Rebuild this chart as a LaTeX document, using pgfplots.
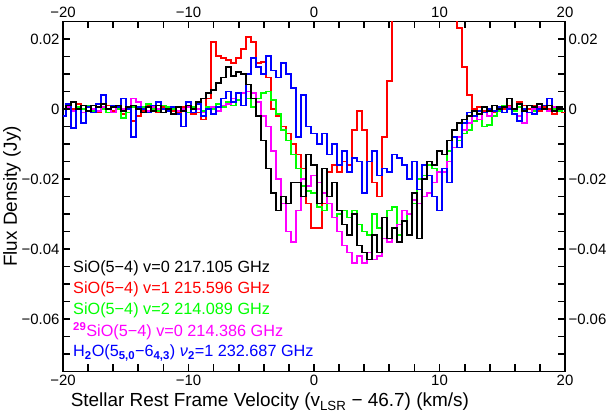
\documentclass[border=0pt]{standalone}
\usepackage{fontspec}
\setmainfont{Liberation Sans}
\usepackage{pgfplots}
\usepackage{pgfplotstable}
\pgfplotsset{compat=1.18}
\definecolor{cK}{rgb}{0,0,0}
\definecolor{cR}{rgb}{1,0,0}
\definecolor{cG}{rgb}{0,1,0}
\definecolor{cM}{rgb}{1,0,1}
\definecolor{cB}{rgb}{0,0,1}
\pgfplotstableread{
v K R G M B
-20.0 0.0000 0.0000 0.0000 0.0000 -0.0020
-19.6 0.0010 0.0010 0.0010 0.0005 0.0015
-19.2 0.0020 0.0000 -0.0005 -0.0005 -0.0055
-18.8 0.0000 0.0015 0.0005 0.0000 0.0000
-18.4 0.0010 0.0000 0.0000 -0.0010 -0.0040
-18.0 -0.0005 -0.0005 0.0010 0.0005 0.0005
-17.6 0.0010 0.0010 -0.0005 0.0000 -0.0010
-17.2 0.0005 -0.0010 0.0005 -0.0005 0.0015
-16.8 0.0015 0.0005 0.0000 0.0005 0.0040
-16.4 0.0000 0.0010 -0.0010 0.0000 0.0000
-16.0 0.0005 -0.0005 0.0005 -0.0010 0.0010
-15.6 0.0010 0.0000 0.0000 0.0005 0.0005
-15.2 -0.0005 -0.0015 -0.0025 0.0000 0.0030
-14.8 0.0005 -0.0010 -0.0010 0.0005 0.0000
-14.4 0.0010 -0.0035 0.0005 0.0030 -0.0080
-14.0 0.0000 -0.0020 0.0000 0.0020 0.0005
-13.6 -0.0010 -0.0005 0.0005 0.0000 0.0000
-13.2 0.0005 0.0010 0.0015 -0.0005 -0.0010
-12.8 -0.0005 0.0000 0.0000 0.0005 0.0010
-12.4 0.0010 -0.0010 -0.0005 0.0000 0.0020
-12.0 -0.0010 0.0005 0.0010 -0.0010 0.0000
-11.6 0.0000 0.0000 0.0005 0.0000 -0.0005
-11.2 -0.0015 -0.0005 0.0000 0.0005 0.0005
-10.8 0.0005 -0.0010 -0.0005 -0.0005 -0.0015
-10.4 -0.0005 0.0005 0.0000 0.0000 -0.0050
-10.0 0.0010 -0.0010 -0.0010 0.0005 0.0020
-9.6 0.0000 -0.0015 0.0005 -0.0010 -0.0010
-9.2 0.0020 -0.0010 0.0000 0.0000 0.0015
-8.8 0.0030 -0.0030 -0.0005 -0.0010 -0.0020
-8.4 0.0045 0.0030 0.0005 0.0000 0.0000
-8.0 0.0055 0.0190 0.0000 0.0005 -0.0015
-7.6 0.0075 0.0150 0.0015 -0.0005 0.0005
-7.2 0.0090 0.0145 0.0005 0.0010 0.0030
-6.8 0.0120 0.0140 0.0020 0.0015 0.0050
-6.4 0.0095 0.0130 0.0010 0.0030 0.0020
-6.0 0.0105 0.0145 0.0025 0.0045 0.0045
-5.6 0.0100 0.0170 0.0010 0.0045 0.0010
-5.2 0.0070 0.0205 0.0030 0.0050 0.0100
-4.8 0.0030 0.0190 0.0005 0.0045 0.0145
-4.4 -0.0020 0.0130 0.0030 0.0020 0.0120
-4.0 -0.0090 0.0135 0.0045 -0.0020 0.0100
-3.6 -0.0170 0.0090 0.0050 -0.0050 0.0150
-3.2 -0.0240 0.0000 0.0025 -0.0120 0.0110
-2.8 -0.0290 -0.0020 -0.0015 -0.0200 0.0090
-2.4 -0.0250 -0.0050 -0.0060 -0.0270 0.0130
-2.0 -0.0270 -0.0070 -0.0090 -0.0350 0.0100
-1.6 -0.0210 -0.0100 -0.0130 -0.0380 0.0060
-1.2 -0.0210 -0.0130 -0.0170 -0.0290 -0.0080
-0.8 -0.0250 -0.0170 -0.0220 -0.0200 0.0040
-0.4 -0.0130 -0.0270 -0.0235 -0.0220 -0.0050
0.0 -0.0160 -0.0340 -0.0240 -0.0190 -0.0070
0.4 -0.0270 -0.0340 -0.0280 -0.0210 -0.0100
0.8 -0.0170 -0.0270 -0.0290 -0.0240 -0.0070
1.2 -0.0250 -0.0180 -0.0270 -0.0270 -0.0130
1.6 -0.0210 -0.0160 -0.0310 -0.0310 -0.0100
2.0 -0.0290 -0.0180 -0.0300 -0.0350 -0.0160
2.4 -0.0330 -0.0150 -0.0290 -0.0390 -0.0120
2.8 -0.0360 -0.0160 -0.0310 -0.0410 -0.0180
3.2 -0.0300 -0.0060 -0.0290 -0.0440 -0.0140
3.6 -0.0390 -0.0005 -0.0330 -0.0420 -0.0150
4.0 -0.0410 -0.0060 -0.0350 -0.0440 -0.0240
4.4 -0.0430 -0.0150 -0.0360 -0.0410 -0.0150
4.8 -0.0360 -0.0210 -0.0300 -0.0430 -0.0120
5.2 -0.0410 -0.0250 -0.0340 -0.0420 -0.0190
5.6 -0.0310 -0.0080 -0.0310 -0.0370 -0.0170
6.0 -0.0370 0.0080 -0.0290 -0.0380 -0.0180
6.4 -0.0340 0.1000 -0.0280 -0.0340 -0.0130
6.8 -0.0380 0.1000 -0.0360 -0.0330 -0.0140
7.2 -0.0320 0.1000 -0.0320 -0.0290 -0.0160
7.6 -0.0360 0.1000 -0.0300 -0.0300 -0.0200
8.0 -0.0240 0.1000 -0.0270 -0.0260 -0.0150
8.4 -0.0370 0.1000 -0.0200 -0.0270 -0.0230
8.8 -0.0200 0.1000 -0.0190 -0.0250 -0.0160
9.2 -0.0150 0.1000 -0.0160 -0.0240 -0.0190
9.6 -0.0160 0.1000 -0.0170 -0.0210 -0.0250
10.0 -0.0120 0.1000 -0.0180 -0.0180 -0.0290
10.4 -0.0130 0.1000 -0.0180 -0.0180 -0.0170
10.8 -0.0090 0.1000 -0.0120 -0.0150 -0.0210
11.2 -0.0060 0.1000 -0.0110 -0.0110 -0.0080
11.6 -0.0040 0.0230 -0.0090 -0.0080 -0.0110
12.0 -0.0030 0.0120 -0.0070 -0.0060 -0.0040
12.4 -0.0020 0.0040 -0.0060 -0.0040 -0.0010
12.8 -0.0005 0.0000 -0.0035 -0.0020 -0.0020
13.2 -0.0015 0.0005 -0.0030 -0.0030 -0.0005
13.6 0.0005 -0.0005 -0.0050 -0.0010 -0.0010
14.0 -0.0005 0.0000 -0.0045 -0.0020 0.0000
14.4 0.0010 -0.0010 -0.0020 -0.0005 -0.0005
14.8 0.0000 0.0005 -0.0005 0.0000 0.0005
15.2 0.0005 0.0000 0.0010 -0.0010 -0.0010
15.6 0.0030 0.0010 0.0000 0.0005 0.0000
16.0 0.0000 -0.0005 -0.0005 -0.0015 -0.0015
16.4 0.0015 0.0020 0.0005 -0.0020 -0.0035
16.8 -0.0005 0.0010 0.0000 -0.0040 0.0000
17.2 0.0010 0.0000 0.0010 -0.0010 -0.0010
17.6 0.0005 0.0010 -0.0005 0.0000 -0.0015
18.0 0.0015 -0.0005 0.0005 0.0005 0.0000
18.4 0.0000 0.0005 0.0000 0.0000 0.0010
18.8 0.0010 0.0000 0.0010 -0.0005 0.0030
19.2 -0.0005 -0.0015 0.0000 0.0005 -0.0005
19.6 0.0005 0.0005 -0.0005 0.0000 0.0005
20.0 0.0000 -0.0010 0.0000 0.0000 0.0000
}\spec
\pgfplotsset{
  common/.style={
    width=502bp, height=350bp, scale only axis,
    at={(0,0)}, anchor=south west,
    xmin=-20, xmax=20, ymin=-0.075, ymax=0.025,
    xtick={-20,-10,0,10,20}, xticklabels={−20,−10,0,10,20},
    ytick={-0.06,-0.04,-0.02,0,0.02}, yticklabels={−0.06,−0.04,−0.02,0,0.02},
    scaled y ticks=false, scaled x ticks=false,
    ticklabel style={font=\fontsize{15}{17}\selectfont},
  }
}
\begin{document}
\begin{tikzpicture}
\path[use as bounding box] (-63bp,-45.5bp) rectangle (544bp,371.5bp);
\begin{axis}[common,
  axis line style={draw=none},
  major tick length=0pt, minor tick length=0pt,
  xticklabel pos=upper, yticklabel pos=right,
]
\end{axis}
\begin{axis}[common,
  minor x tick num=4, minor y tick num=3,
  tick align=inside,
  xtick pos=both, ytick pos=both,
  major tick length=7bp, minor tick length=7bp,
  tick style={draw=black, line width=1.8pt},
  axis line style={line width=1.6pt},
  xlabel={Stellar Rest Frame Velocity (v\textsubscript{LSR} − 46.7) (km/s)},
  xlabel style={at={(axis description cs:0.412,0)}, anchor=center, yshift=-30.5bp, font=\fontsize{19}{21}\selectfont},
  ylabel={Flux Density (Jy)},
  ylabel style={at={(axis description cs:-0.1016,0.5)}, anchor=center, font=\fontsize{19}{21}\selectfont},
  every axis plot/.append style={line width=2pt, const plot mark mid, mark=none},
]
\addplot[cR] table[x=v, y=R] {\spec};
\addplot[cG] table[x=v, y=G] {\spec};
\addplot[cM] table[x=v, y=M] {\spec};
\addplot[cB] table[x=v, y=B] {\spec};
\addplot[cK] table[x=v, y=K] {\spec};
\begin{scope}[every node/.style={anchor=west, font=\fontsize{16.3}{18}\selectfont, inner sep=0pt}]
\node[text=cK] at (axis description cs:0.02,0.296) {SiO(5−4) v=0 217.105 GHz};
\node[text=cR] at (axis description cs:0.02,0.236) {SiO(5−4) v=1 215.596 GHz};
\node[text=cG] at (axis description cs:0.02,0.176) {SiO(5−4) v=2 214.089 GHz};
\node[text=cM] at (axis description cs:0.02,0.116) {\textsuperscript{\textbf{29}}SiO(5−4) v=0 214.386 GHz};
\node[text=cB] at (axis description cs:0.02,0.053) {H\textsubscript{\textbf{2}}O(5\textsubscript{\textbf{5,0}}−6\textsubscript{\textbf{4,3}}) \textit{ν}\textsubscript{\textbf{2}}=1 232.687 GHz};
\end{scope}
\end{axis}
% axis frame ticks (decoration only), drawn on the 502bp x 350bp frame
\foreach \i in {1,...,19} {
  \draw[black, line width=1.6pt] (\i*25.1bp,0) -- ++(0,7bp);
  \draw[black, line width=1.6pt] (\i*25.1bp,350bp) -- ++(0,-7bp);
}
\foreach \j in {1,...,19} {
  \draw[black, line width=1.6pt] (0,\j*17.5bp) -- ++(7bp,0);
  \draw[black, line width=1.6pt] (502bp,\j*17.5bp) -- ++(-7bp,0);
}
\end{tikzpicture}
\end{document}
